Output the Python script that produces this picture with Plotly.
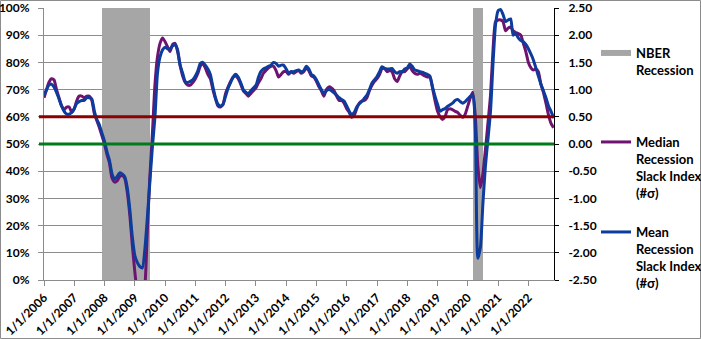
import plotly.graph_objects as go
import pandas as pd

# Monthly series, Jan 2006 .. Nov 2022 (values in sigma)
median_slack = [
    0.85, 1.00, 1.13, 1.20, 1.18, 1.00, 0.85, 0.70, 0.63, 0.68, 0.68, 0.58,
    0.65, 0.80, 0.88, 0.88, 0.85, 0.88, 0.88, 0.80, 0.55, 0.43, 0.30, 0.15,
    0.00, -0.20, -0.35, -0.63, -0.70, -0.68, -0.60, -0.58, -0.63, -0.88, -1.30, -1.85,
    -2.35, -2.75, -2.90, -2.90, -2.65, -1.60, -0.60, 0.20, 1.10, 1.60, 1.85, 1.95,
    1.88, 1.78, 1.70, 1.83, 1.85, 1.70, 1.45, 1.25, 1.13, 1.08, 1.08, 1.13,
    1.20, 1.30, 1.43, 1.48, 1.40, 1.28, 1.20, 1.00, 0.83, 0.70, 0.68, 0.73,
    0.93, 1.05, 1.15, 1.23, 1.25, 1.20, 1.10, 0.98, 0.93, 0.88, 0.93, 0.98,
    1.03, 1.13, 1.20, 1.30, 1.35, 1.40, 1.43, 1.43, 1.35, 1.23, 1.28, 1.33,
    1.33, 1.28, 1.33, 1.30, 1.33, 1.35, 1.30, 1.33, 1.40, 1.35, 1.25, 1.23,
    1.15, 1.05, 0.98, 0.88, 1.00, 1.05, 1.03, 0.98, 0.88, 0.80, 0.80, 0.75,
    0.65, 0.58, 0.49, 0.53, 0.65, 0.75, 0.79, 0.80, 0.85, 0.98, 1.08, 1.15,
    1.20, 1.28, 1.38, 1.39, 1.33, 1.35, 1.33, 1.20, 1.15, 1.25, 1.33, 1.33,
    1.38, 1.43, 1.35, 1.30, 1.28, 1.30, 1.28, 1.25, 1.23, 1.23, 1.03, 0.80,
    0.60, 0.50, 0.45, 0.50, 0.63, 0.65, 0.63, 0.60, 0.58, 0.53, 0.49, 0.55,
    0.70, 0.85, 0.95, 0.50, -0.40, -0.80, -0.55, -0.10, 0.40, 0.90, 1.75, 2.25,
    2.28, 2.28, 2.25, 2.08, 2.13, 2.15, 2.08, 2.05, 2.03, 2.00, 1.85, 1.70,
    1.50, 1.40, 1.36, 1.38, 1.33, 1.10, 0.95, 0.75, 0.53, 0.38, 0.30,
]
mean_slack = [
    0.90, 1.00, 1.08, 1.10, 1.05, 0.95, 0.83, 0.70, 0.60, 0.55, 0.55, 0.58,
    0.65, 0.75, 0.78, 0.80, 0.80, 0.85, 0.85, 0.83, 0.60, 0.45, 0.35, 0.20,
    0.05, -0.15, -0.30, -0.55, -0.65, -0.60, -0.53, -0.55, -0.60, -0.80, -1.20, -1.70,
    -2.05, -2.18, -2.25, -2.28, -1.95, -1.35, -0.70, -0.05, 0.50, 1.30, 1.60, 1.73,
    1.78, 1.75, 1.75, 1.80, 1.83, 1.73, 1.45, 1.30, 1.15, 1.13, 1.15, 1.18,
    1.25, 1.35, 1.48, 1.50, 1.45, 1.38, 1.28, 1.05, 0.85, 0.73, 0.70, 0.73,
    0.88, 1.03, 1.13, 1.23, 1.28, 1.23, 1.13, 1.00, 0.95, 0.93, 0.98, 1.03,
    1.08, 1.23, 1.33, 1.38, 1.40, 1.43, 1.45, 1.50, 1.48, 1.43, 1.45, 1.45,
    1.38, 1.30, 1.33, 1.33, 1.35, 1.36, 1.33, 1.35, 1.43, 1.38, 1.28, 1.25,
    1.18, 1.08, 1.00, 0.93, 0.98, 1.00, 0.98, 0.94, 0.90, 0.85, 0.82, 0.79,
    0.70, 0.60, 0.54, 0.58, 0.68, 0.74, 0.78, 0.84, 0.90, 1.00, 1.12, 1.18,
    1.24, 1.33, 1.42, 1.39, 1.38, 1.38, 1.39, 1.33, 1.30, 1.33, 1.33, 1.38,
    1.40, 1.47, 1.43, 1.36, 1.35, 1.33, 1.32, 1.30, 1.28, 1.25, 1.05, 0.88,
    0.73, 0.60, 0.63, 0.65, 0.69, 0.72, 0.75, 0.80, 0.82, 0.78, 0.75, 0.78,
    0.83, 0.88, 0.90, 0.25, -2.10, -1.90, -1.10, -0.40, 0.10, 0.60, 1.50, 2.20,
    2.45, 2.47, 2.38, 2.25, 2.28, 2.30, 2.00, 2.03, 1.95, 1.90, 1.88, 1.83,
    1.75, 1.65, 1.55, 1.40, 1.25, 1.10, 0.98, 0.85, 0.70, 0.60, 0.48,
]
dates = pd.date_range("2006-01-01", periods=len(mean_slack), freq="MS")

# NBER recession months (as drawn)
recession_periods = [("2007-12-01", "2009-06-01"), ("2020-03-01", "2020-06-01")]
recession_months = []
for a, b in recession_periods:
    recession_months += list(pd.date_range(a, b, freq="MS"))
recession_value = [1.0] * len(recession_months)

# Threshold lines (sigma)
threshold_red = 0.5
threshold_green = 0.0

left_ticks = [i / 10 for i in range(11)]
right_tickvals = [-2.5, -2.0, -1.5, -1.0, -0.5, 0.0, 0.5, 1.0, 1.5, 2.0, 2.5]
right_ticktext = ["-2.50", "-2.00", "-1.50", "-1.00", "-0.50", "0.00",
                  "0.50", "1.00", "1.50", "2.00", "2.50"]

TICKFONT = dict(family="Lato, Liberation Sans, sans-serif", size=12, color="black", weight="bold")
LEGFONT = dict(family="Lato, Liberation Sans, sans-serif", size=13, color="black", weight="bold")
GRID = "#8c8c8c"

L, R, T, B = 44, 554, 8, 280
PW, PH = R - L, B - T

fig = go.Figure()
fig.add_trace(go.Bar(
    x=recession_months, y=recession_value, yaxis="y",
    width=31.2 * 86400000, offset=0,
    marker=dict(color="#a6a6a6", line=dict(width=0)),
    showlegend=False, hoverinfo="skip",
))
# legend-only entry for the recession shading
fig.add_trace(go.Scatter(
    x=[None], y=[None], mode="lines", name="NBER<br>Recession",
    line=dict(color="#a6a6a6", width=6), legend="legend",
))
fig.add_trace(go.Scatter(
    x=dates, y=median_slack, yaxis="y2", mode="lines",
    name="Median<br>Recession<br>Slack Index<br>(#σ)",
    line=dict(color="#6e1470", width=3, shape="spline", smoothing=0.6),
    legend="legend2",
))
fig.add_trace(go.Scatter(
    x=dates, y=mean_slack, yaxis="y2", mode="lines",
    name="Mean<br>Recession<br>Slack Index<br>(#σ)",
    line=dict(color="#0d3c9c", width=3, shape="spline", smoothing=0.6),
    legend="legend3",
))

for val, col in [(threshold_red, "#8b0000"), (threshold_green, "#007a1a")]:
    fig.add_shape(type="line", xref="paper", yref="y2", x0=-5 / PW, x1=1.0,
                  y0=val, y1=val, line=dict(color=col, width=3), layer="above")

# chart border
fig.add_shape(type="rect", xref="paper", yref="paper",
              x0=(0.5 - L) / PW, x1=(700.5 - L) / PW,
              y0=(B - 338.5) / PH, y1=(B - 0.5) / PH,
              line=dict(color="#8c8c8c", width=1), fillcolor="rgba(0,0,0,0)", layer="below")

leg_common = dict(font=LEGFONT, bgcolor="rgba(0,0,0,0)", valign="top",
                  xanchor="left", yanchor="top", borderwidth=0)
lx = (596 - L) / PW
fig.update_layout(
    width=701, height=339,
    margin=dict(l=L, r=701 - R, t=T, b=339 - B, autoexpand=False),
    paper_bgcolor="white", plot_bgcolor="white",
    font=TICKFONT,
    bargap=0,
    legend=dict(x=lx, y=(B - 38) / PH, **leg_common),
    legend2=dict(x=lx, y=(B - 127) / PH, **leg_common),
    legend3=dict(x=lx, y=(B - 217) / PH, **leg_common),
    xaxis=dict(
        type="date", range=["2006-01-01", "2022-11-06"],
        tick0="2006-01-01", dtick="M12", tickformat="%-m/%-d/%Y",
        tickangle=-45, ticks="outside", ticklen=5, tickcolor=GRID,
        showline=True, linecolor=GRID, showgrid=False, zeroline=False,
        tickfont=TICKFONT, automargin=False,
    ),
    yaxis=dict(
        range=[0, 1], tickvals=left_ticks, tickformat=".0%",
        ticks="outside", ticklen=5, tickcolor=GRID, ticklabelstandoff=6,
        showline=True, linecolor=GRID, showgrid=True, gridcolor=GRID, gridwidth=1,
        zeroline=False, tickfont=TICKFONT, automargin=False,
    ),
    yaxis2=dict(
        range=[-2.5, 2.5], overlaying="y", side="right", anchor="x",
        tickvals=right_tickvals, ticktext=right_ticktext,
        ticks="outside", ticklen=4, tickcolor="black", ticklabelstandoff=7,
        showline=True, linecolor="black", showgrid=False, zeroline=False,
        tickfont=TICKFONT, automargin=False,
    ),
)

fig.write_html("out.html")
